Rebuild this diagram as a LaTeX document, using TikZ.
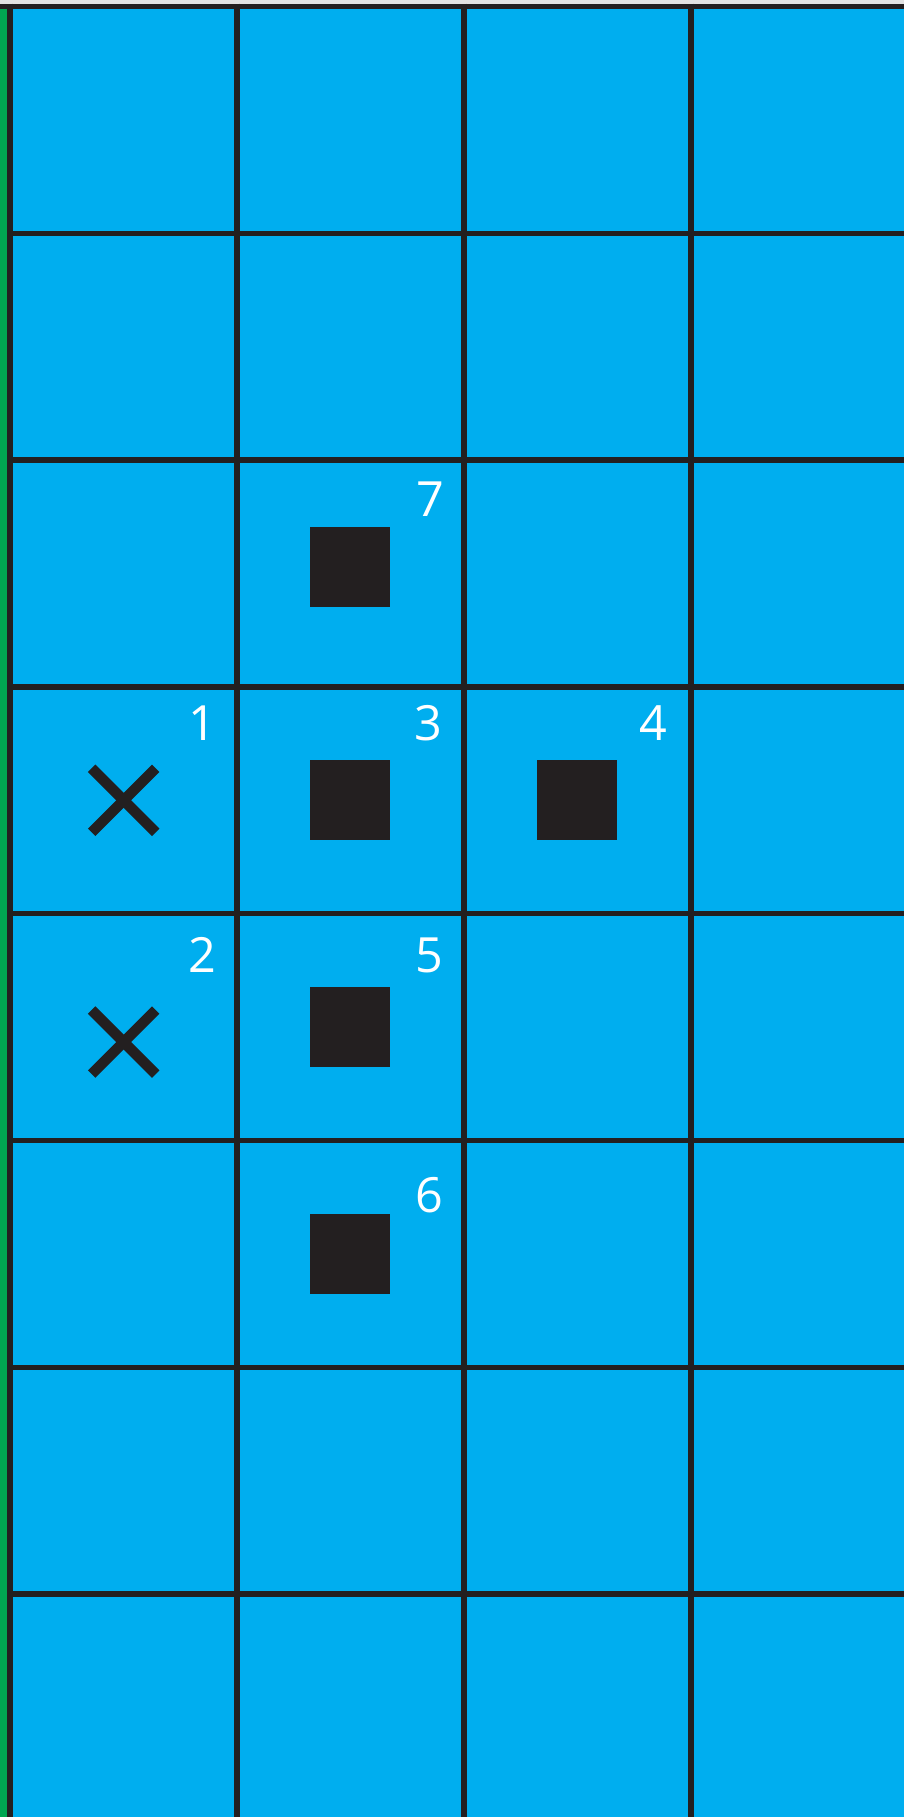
\documentclass[tikz,border=0pt]{standalone}
\usepackage{fontspec}
\setmainfont{Open Sans}
\definecolor{gridblue}{HTML}{00AEEF}
\definecolor{gridgreen}{HTML}{00A651}
\definecolor{inkblack}{HTML}{231F20}
\definecolor{topgray}{HTML}{E2E2E2}
\tikzset{
  gridline/.style={draw=inkblack, line width=1.56pt},
  blockbox/.style={rectangle, fill=inkblack, minimum size=0.8cm, inner sep=0pt, outer sep=0pt},
  crossfield/.style={rectangle, minimum size=0.64cm, inner sep=0pt, outer sep=0pt},
  crossstroke/.style={draw=inkblack, line width=3pt, line cap=butt},
  numlabel/.style={anchor=base, inner sep=0pt, outer sep=0pt, text=white, font=\fontsize{13.8}{14}\selectfont}
}
\begin{document}
\begin{tikzpicture}[x=0.01cm, y=-0.01cm]
\useasboundingbox (0,0) rectangle (904,1817);
\fill[gridblue] (0,0) rectangle (904,1817);
\fill[gridgreen] (0,0) rectangle (7.3,1817);
\fill[topgray] (0,0) rectangle (904,3.6);
% horizontal grid lines
\draw[gridline] (0,6.5) -- (904,6.5);
\foreach \k in {1,...,7} {
  \draw[gridline] (7.3,{6.5+226.8*\k}) -- (904,{6.5+226.8*\k});
}
% vertical grid lines
\foreach \k in {0,...,3} {
  \draw[gridline] ({10+227*\k},3.7) -- ({10+227*\k},1817);
}
% crosses
\node[crossfield] (x1) at (123.7,800.3) {};
\node[crossfield] (x2) at (123.7,1042) {};
\foreach \c in {x1,x2} {
  \draw[crossstroke] (\c.north west) -- (\c.south east);
  \draw[crossstroke] (\c.north east) -- (\c.south west);
}
% squares
\node[blockbox] (s7) at (350,566.7) {};
\node[blockbox] (s3) at (350,800) {};
\node[blockbox] (s4) at (577.3,800) {};
\node[blockbox] (s5) at (350,1026.7) {};
\node[blockbox] (s6) at (350,1254) {};
% numbers
\node[numlabel] (n1) at (202,740) {1};
\node[numlabel] (n2) at (202.5,972) {2};
\node[numlabel] (n3) at (428.5,740) {3};
\node[numlabel] (n4) at (653,740) {4};
\node[numlabel] (n5) at (429,972) {5};
\node[numlabel] (n6) at (429.5,1212) {6};
\node[numlabel] (n7) at (430,516) {7};
\end{tikzpicture}
\end{document}
